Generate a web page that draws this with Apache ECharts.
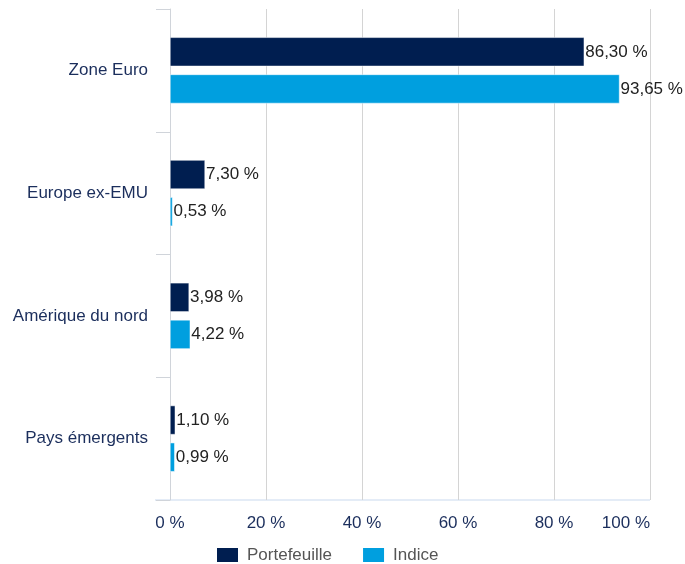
<!DOCTYPE html>
<html>
<head>
<meta charset="utf-8">
<script src="https://cdn.jsdelivr.net/npm/echarts@6/dist/echarts.min.js"></script>
<style>
    html, body { margin: 0; padding: 0; background: #fff; }
    #chart { width: 685px; height: 564px; }
</style>
</head>
<body>
<div id="chart"></div>
<script>
const categories = ['Zone Euro', 'Europe ex-EMU', 'Amérique du nord', 'Pays émergents'];
const portefeuille = [86.30, 7.30, 3.98, 1.10];
const indice = [93.65, 0.53, 4.22, 0.99];
const xTicks = [0, 20, 40, 60, 80, 100];

let myChart = echarts.init(document.getElementById('chart'));

const fmt = function (p) {
    return p.value.toFixed(2).replace('.', ',') + ' %';
};

myChart.setOption({
    animation: false,
    textStyle: { fontFamily: 'Liberation Sans, Arial, sans-serif' },
    grid: {
        left: 170,
        right: 35,
        top: 9,
        bottom: 64
    },
    legend: {
        bottom: 0,
        left: 215,
        padding: 0,
        itemWidth: 23,
        itemHeight: 16,
        itemGap: 29,
        icon: 'rect',
        textStyle: { color: '#555555', fontSize: 17, padding: [0, 0, 0, 3] },
        data: ['Portefeuille', 'Indice']
    },
    xAxis: {
        type: 'value',
        min: xTicks[0],
        max: xTicks[xTicks.length - 1],
        interval: 20,
        axisLine: { show: false },
        axisTick: { show: false },
        axisLabel: {
            color: '#1b2e5c',
            fontSize: 17,
            margin: 15,
            alignMaxLabel: 'right',
            formatter: function (v) { return v + ' %'; }
        },
        splitLine: { lineStyle: { color: '#d4d4d4', width: 1 } }
    },
    yAxis: {
        type: 'category',
        inverse: true,
        data: categories,
        axisLine: { show: true, onZero: false, lineStyle: { color: '#d0d4da' } },
        axisTick: { show: true, length: 14, lineStyle: { color: '#d0d4da' } },
        axisLabel: { color: '#1b2e5c', fontSize: 17, margin: 22, padding: [4, 0, 0, 0] }
    },
    series: [
        {
            name: 'Portefeuille',
            type: 'bar',
            barWidth: 29,
            barGap: '28%',
            itemStyle: { color: '#001e50', borderColor: '#ffffff', borderWidth: 0.5 },
            label: { show: true, position: 'right', distance: 1, color: '#222222', fontSize: 17, formatter: fmt },
            data: portefeuille
        },
        {
            name: 'Indice',
            type: 'bar',
            barWidth: 29,
            itemStyle: { color: '#009fdf', borderColor: '#ffffff', borderWidth: 0.5 },
            label: { show: true, position: 'right', distance: 1, color: '#222222', fontSize: 17, formatter: fmt },
            data: indice
        }
    ],
    graphic: [{
        type: 'line',
        shape: { x1: 155, y1: 500, x2: 650, y2: 500 },
        style: { stroke: '#c9d9ee', lineWidth: 1 }
    }]
});

window.addEventListener('resize', function () {
    myChart.resize();
});
</script>
</body>
</html>
